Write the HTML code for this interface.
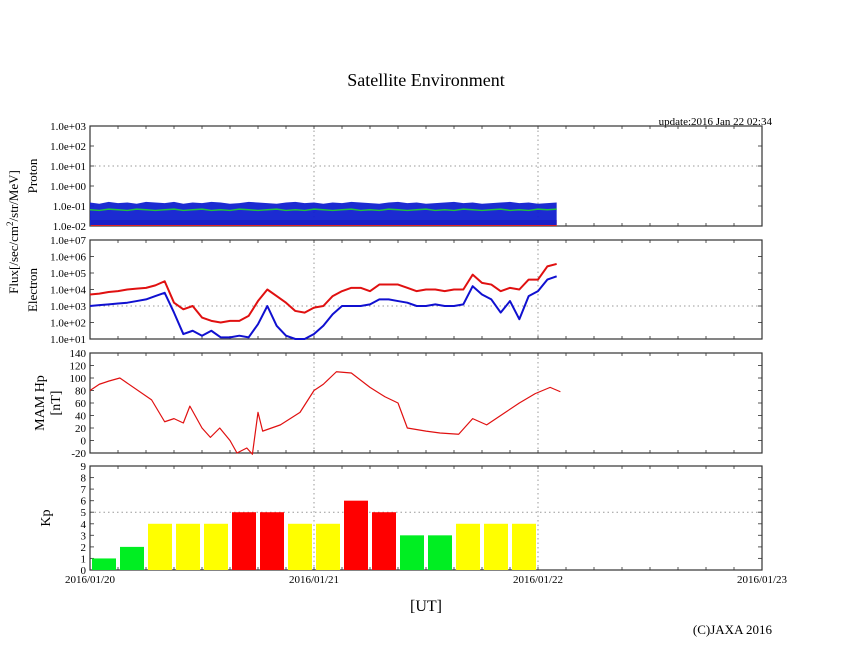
<!DOCTYPE html>
<html><head><meta charset="utf-8">
<style>
body{margin:0;background:#fff;}
svg{display:block;font-family:"Liberation Serif",serif;}
</style></head>
<body>
<svg id="chart" width="846" height="655" viewBox="0 0 846 655" xmlns="http://www.w3.org/2000/svg">
<text x="426" y="86" font-size="18" text-anchor="middle">Satellite Environment</text>
<text x="772" y="125" font-size="11" text-anchor="end">update:2016 Jan 22 02:34</text>
<text transform="translate(18,232) rotate(-90)" font-size="13" text-anchor="middle">Flux[/sec/cm<tspan dy="-5" font-size="9">2</tspan><tspan dy="5">/str/MeV]</tspan></text>
<text transform="translate(37,176) rotate(-90)" font-size="13" text-anchor="middle">Proton</text>
<text transform="translate(37,290) rotate(-90)" font-size="13" text-anchor="middle">Electron</text>
<text transform="translate(44,403) rotate(-90)" font-size="14" text-anchor="middle">MAM Hp</text>
<text transform="translate(60,403) rotate(-90)" font-size="14" text-anchor="middle">[nT]</text>
<text transform="translate(50,518) rotate(-90)" font-size="14" text-anchor="middle">Kp</text>
<text x="426" y="611" font-size="16" text-anchor="middle">[UT]</text>
<text x="772" y="634" font-size="13" text-anchor="end">(C)JAXA 2016</text>
</svg>
<script>
const xTickLabels=["2016/01/20","2016/01/21","2016/01/22","2016/01/23"];
const protonTicks=["1.0e-02","1.0e-01","1.0e+00","1.0e+01","1.0e+02","1.0e+03"];
const electronTicks=["1.0e+01","1.0e+02","1.0e+03","1.0e+04","1.0e+05","1.0e+06","1.0e+07"];
const mamTicks=[-20,0,20,40,60,80,100,120,140];
const kpTicks=[0,1,2,3,4,5,6,7,8,9];
const hours=[0,1,2,3,4,5,6,7,8,9,10,11,12,13,14,15,16,17,18,19,20,21,22,23,24,25,26,27,28,29,30,31,32,33,34,35,36,37,38,39,40,41,42,43,44,45,46,47,48,49,50];
const electronRed=[3.7,3.75,3.85,3.9,4.0,4.05,4.1,4.25,4.5,3.2,2.8,3.0,2.3,2.1,2.0,2.1,2.1,2.4,3.3,4.0,3.6,3.2,2.7,2.6,2.9,3.0,3.6,3.9,4.1,4.1,3.9,4.3,4.3,4.3,4.1,3.9,4.0,4.0,3.9,4.0,4.0,4.9,4.4,4.3,3.9,4.1,4.0,4.6,4.6,5.4,5.55];
const electronBlue=[3.0,3.05,3.1,3.15,3.2,3.3,3.4,3.6,3.8,2.6,1.3,1.5,1.2,1.5,1.1,1.1,1.2,1.1,1.9,3.0,1.8,1.2,1.0,1.0,1.3,1.8,2.5,3.0,3.0,3.0,3.1,3.4,3.4,3.3,3.2,3.0,3.0,3.1,3.0,3.0,3.1,4.2,3.7,3.4,2.6,3.3,2.2,3.6,3.9,4.6,4.8];
const protonHigh=[0.15,0.13,0.16,0.14,0.15,0.13,0.16,0.15,0.14,0.16,0.13,0.15,0.14,0.16,0.15,0.13,0.14,0.16,0.15,0.14,0.13,0.15,0.16,0.14,0.15,0.13,0.15,0.14,0.16,0.15,0.14,0.13,0.15,0.16,0.14,0.15,0.13,0.14,0.15,0.16,0.14,0.15,0.13,0.14,0.15,0.16,0.14,0.15,0.13,0.14,0.15];
const protonGreen=[0.065,0.06,0.07,0.065,0.06,0.07,0.065,0.06,0.065,0.07,0.06,0.065,0.07,0.06,0.065,0.06,0.07,0.065,0.06,0.065,0.07,0.06,0.065,0.06,0.07,0.065,0.06,0.065,0.07,0.06,0.065,0.06,0.07,0.065,0.06,0.065,0.07,0.06,0.065,0.06,0.07,0.065,0.06,0.065,0.07,0.06,0.065,0.06,0.07,0.065,0.07];
const mamHours=[0,1,2,3.2,6.6,8,9,10,10.7,12,12.9,13.9,15,15.75,16.8,17.4,18,18.5,20.4,22.5,24,25,26.4,28,30,31.6,33,34,36,37.5,39.5,41,42.5,44.5,46,47.7,49.3,50.4];
const mamValues=[80,90,95,100,65,30,35,28,55,20,5,20,0,-20,-12,-22,45,15,25,45,80,90,110,108,85,70,60,20,15,12,10,35,25,45,60,75,85,78];
const kpValues=[1,2,4,4,4,5,5,4,4,6,5,3,3,4,4,4];

const svg=document.getElementById('chart');
const NS='http://www.w3.org/2000/svg';
function mk(tag,attrs,parent){const e=document.createElementNS(NS,tag);for(const k in attrs)e.setAttribute(k,attrs[k]);(parent||svg).appendChild(e);return e;}
const L=90,R=762;
const xScale=h=>L+h*(R-L)/72;
const panels={proton:{t:126,b:226},electron:{t:240,b:339},mam:{t:353,b:453},kp:{t:466,b:570}};
const yProton=v=>{const p=panels.proton;return p.b-(Math.log10(v)+2)/5*(p.b-p.t);};
const yElec=lv=>{const p=panels.electron;return p.b-(Math.max(lv,1)-1)/6*(p.b-p.t);};
const yMam=v=>{const p=panels.mam;return p.b-(v+20)/160*(p.b-p.t);};
const yKp=v=>{const p=panels.kp;return p.b-v/9*(p.b-p.t);};

function frame(name,p,ticks,yf,labels,gridVals){
  const g=mk('g',{});
  
  
  // day gridlines
  [1,2].forEach(d=>{const l=mk('line',{x1:xScale(d*24),x2:xScale(d*24),y1:p.t,y2:p.b,stroke:'#999','stroke-dasharray':'1.5,3','stroke-width':1},g);
    });
  gridVals.forEach(v=>{const y=yf(v);const l=mk('line',{x1:L,x2:R,y1:y,y2:y,stroke:'#999','stroke-dasharray':'1.5,3','stroke-width':1},g);
    });
  for(let h=3;h<72;h+=3){const x=xScale(h);
    mk('line',{x1:x,x2:x,y1:p.t,y2:p.t+3,stroke:'#555'},g);mk('line',{x1:x,x2:x,y1:p.b,y2:p.b-3,stroke:'#555'},g);}
  ticks.forEach((v,i)=>{const y=yf(v);
    mk('line',{x1:L,x2:L+4,y1:y,y2:y,stroke:'#555'},g);mk('line',{x1:R,x2:R-4,y1:y,y2:y,stroke:'#555'},g);
    const t=mk('text',{x:L-4,y:y+4,'font-size':11,'text-anchor':'end'},g);t.textContent=labels[i];
    });
  const r=mk('rect',{x:L,y:p.t,width:R-L,height:p.b-p.t,fill:'none',stroke:'#333','stroke-width':1.2},g);
  
  return g;
}
function poly(pts,color,name,w){const e=mk('polyline',{points:pts.map(p=>p.join(',')).join(' '),fill:'none',stroke:color,'stroke-width':w||1.3,'stroke-linejoin':'round'});
  return e;}

// Proton
const pv=[0.01,0.1,1,10,100,1000];
frame('proton',panels.proton,pv,yProton,protonTicks,[10]);
{const top=hours.map((h,i)=>[xScale(h),yProton(protonHigh[i])]);
 const red=mk('rect',{x:L+1,y:yProton(0.02),width:xScale(50)-L-1,height:panels.proton.b-yProton(0.02),fill:'#d22'});
 
 const pts=top.concat([[xScale(50),panels.proton.b-1],[xScale(0),panels.proton.b-1]]);
 const a=mk('polygon',{points:pts.map(p=>p.join(',')).join(' '),fill:'#1020d0',opacity:0.95});
 
 poly(hours.map((h,i)=>[xScale(h),yProton(protonGreen[i])]),'#20c040','proton-green-series',1.5);}

// Electron
frame('electron',panels.electron,[1,2,3,4,5,6,7],yElec,electronTicks,[3]);
poly(hours.map((h,i)=>[xScale(h),yElec(electronRed[i])]),'#e01010','electron-red-series',2);
poly(hours.map((h,i)=>[xScale(h),yElec(electronBlue[i])]),'#1010d0','electron-blue-series',2);

// MAM
frame('mam',panels.mam,mamTicks,yMam,mamTicks.map(String),[]);
poly(mamHours.map((h,i)=>[xScale(h),yMam(mamValues[i])]),'#e01010','mam-hp-series',1.2);

// Kp
frame('kp',panels.kp,kpTicks,yKp,kpTicks.map(String),[5]);
kpValues.forEach((v,i)=>{const x0=xScale(i*3)+2,x1=xScale(i*3+3)-2;
  const c=v>=5?'#ff0000':(v>=4?'#ffff00':'#00ee22');
  const b=mk('rect',{x:x0,y:yKp(v),width:x1-x0,height:panels.kp.b-yKp(v),fill:c});
  });

xTickLabels.forEach((s,i)=>{const t=mk('text',{x:xScale(i*24),y:583,'font-size':11,'text-anchor':'middle'});t.textContent=s;
  });
</script>
</body></html>
